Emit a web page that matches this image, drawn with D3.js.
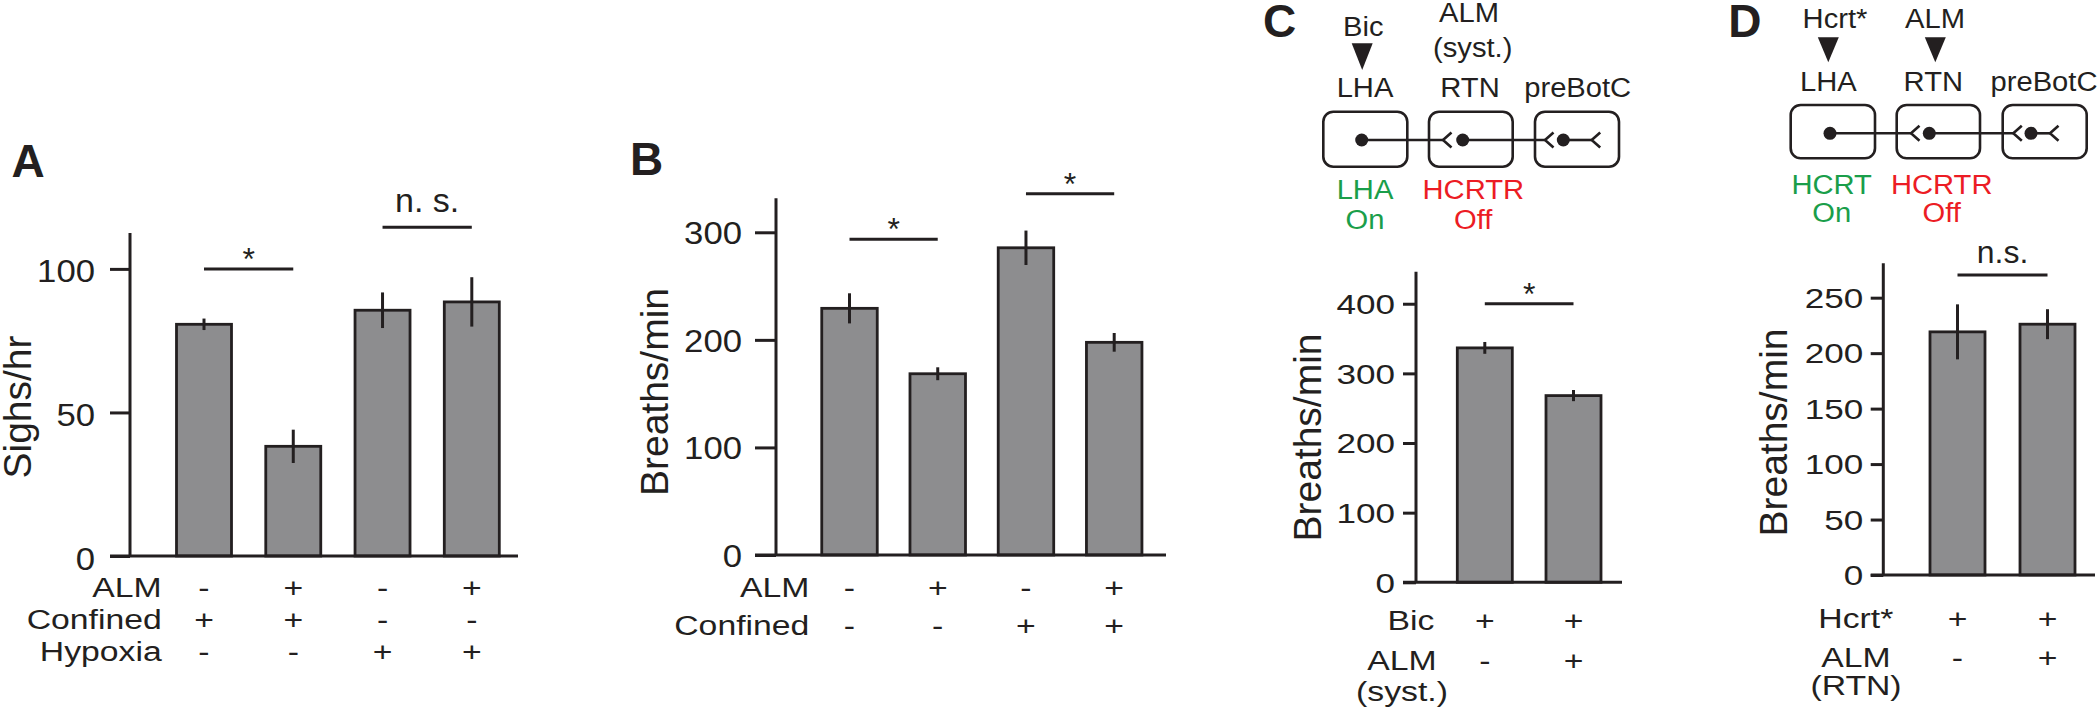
<!DOCTYPE html>
<html><head><meta charset="utf-8">
<script src="https://cdn.jsdelivr.net/npm/d3@7"></script>
<style>
body{margin:0;background:#fff}
svg{display:block}
</style>
</head><body>
<svg id="chart" width="2100" height="712"></svg>
<script>
// ---------------- DATA ----------------
const categoriesA = ["A1", "A2", "A3", "A4"];
const valuesA = [80.7, 38.2, 85.6, 88.5];
const errorsA = [2.0, 5.8, 6.2, 8.6];
const ticksA = [0, 50, 100];
const rowLabelsA = ["ALM", "Confined", "Hypoxia"];
const signsA = [["-", "+", "-", "+"], ["+", "+", "-", "-"], ["-", "-", "+", "+"]];
const sigA = [{from: 0, to: 1, level: 100, label: "*"}, {from: 2, to: 3, level: 114.5, label: "n. s."}];

const categoriesB = ["B1", "B2", "B3", "B4"];
const valuesB = [229.3, 168.5, 285.6, 197.7];
const errorsB = [14, 6, 16, 8.7];
const ticksB = [0, 100, 200, 300];
const rowLabelsB = ["ALM", "Confined"];
const signsB = [["-", "+", "-", "+"], ["-", "-", "+", "+"]];
const sigB = [{from: 0, to: 1, level: 293.5, label: "*"}, {from: 2, to: 3, level: 335.9, label: "*"}];

const categoriesC = ["C1", "C2"];
const valuesC = [336.6, 268.1];
const errorsC = [8.5, 8];
const ticksC = [0, 100, 200, 300, 400];
const rowLabelsC = [["Bic"], ["ALM", "(syst.)"]];
const signsC = [["+", "+"], ["-", "+"]];
const sigC = [{from: 0, to: 1, level: 400, label: "*"}];

const categoriesD = ["D1", "D2"];
const valuesD = [219.2, 226.1];
const errorsD = [24.8, 13.5];
const ticksD = [0, 50, 100, 150, 200, 250];
const rowLabelsD = [["Hcrt*"], ["ALM", "(RTN)"]];
const signsD = [["+", "+"], ["-", "+"]];
const sigD = [{from: 0, to: 1, level: 270.5, label: "n.s."}];

const yTitles = ["Sighs/hr", "Breaths/min", "Breaths/min", "Breaths/min"];
const panelLetters = ["A", "B", "C", "D"];

const regionNames = ["LHA", "RTN", "preBotC"];
const diagC_top = ["Bic", "ALM", "(syst.)"];
const diagC_green = ["LHA", "On"];
const diagC_red = ["HCRTR", "Off"];
const diagD_top = ["Hcrt*", "ALM"];
const diagD_green = ["HCRT", "On"];
const diagD_red = ["HCRTR", "Off"];

// ---------------- STYLE ----------------
const INK = "#231f20";
const BAR = "#8d8d8f";
const GREEN = "#1a9e4a";
const RED = "#ec1c24";
const FONT = "'Liberation Sans', Arial, Helvetica, sans-serif";

const svg = d3.select("#chart");

function txt(g, s, x, y, o) {
  o = o || {};
  return g.append("text")
    .attr("transform", `translate(${x},${y}) scale(${o.sx || 1},1)`)
    .attr("text-anchor", o.anchor || "middle")
    .attr("font-family", FONT)
    .attr("font-size", o.fs || 27)
    .attr("font-weight", o.weight || "normal")
    .attr("fill", o.fill || INK)
    .text(s);
}

function drawPanel(cfg) {
  const g = svg.append("g");
  const y = d3.scaleLinear().domain([0, cfg.yMax]).range([cfg.yBottom, cfg.yTop]);
  const x = d3.scalePoint().domain(cfg.cats).range(cfg.xRange);

  // y axis ticks + labels
  const ax = g.append("g")
    .attr("transform", `translate(${cfg.axisX},0)`)
    .call(d3.axisLeft(y).tickValues(cfg.ticks).tickSize(cfg.tickLen).tickPadding(cfg.tickPad).tickSizeOuter(0));
  ax.select(".domain").remove();
  ax.attr("font-family", FONT).attr("font-size", cfg.tickFs);
  ax.selectAll(".tick line").attr("stroke", INK).attr("stroke-width", 3);
  ax.selectAll(".tick text").attr("fill", INK).attr("dy", cfg.tickDy || "0.36em")
    .each(function () {
      const t = d3.select(this);
      t.attr("x", +t.attr("x") / cfg.tickSx).attr("transform", `scale(${cfg.tickSx},1)`);
    });

  // bars
  g.selectAll("rect.bar").data(cfg.values).enter().append("rect")
    .attr("x", (d, i) => x(cfg.cats[i]) - cfg.barW / 2)
    .attr("y", d => y(d))
    .attr("width", cfg.barW)
    .attr("height", d => y(0) - y(d))
    .attr("fill", BAR).attr("stroke", INK).attr("stroke-width", 2.8);

  // error bars
  g.selectAll("line.err").data(cfg.values).enter().append("line")
    .attr("x1", (d, i) => x(cfg.cats[i])).attr("x2", (d, i) => x(cfg.cats[i]))
    .attr("y1", (d, i) => y(d + cfg.errors[i])).attr("y2", (d, i) => y(d - cfg.errors[i]))
    .attr("stroke", INK).attr("stroke-width", 3);

  // axis lines
  g.append("line").attr("x1", cfg.axisX).attr("x2", cfg.axisX)
    .attr("y1", y(0)).attr("y2", y(cfg.yMax)).attr("stroke", INK).attr("stroke-width", 3);
  g.append("line").attr("x1", cfg.axisX - cfg.tickLen).attr("x2", cfg.xAxisRight)
    .attr("y1", y(0)).attr("y2", y(0)).attr("stroke", INK).attr("stroke-width", 3);

  // significance
  cfg.sig.forEach(s => {
    const x1 = x(cfg.cats[s.from]), x2 = x(cfg.cats[s.to]);
    g.append("line").attr("x1", x1).attr("x2", x2).attr("y1", y(s.level)).attr("y2", y(s.level))
      .attr("stroke", INK).attr("stroke-width", 3);
    const isStar = s.label === "*";
    txt(g, s.label, (x1 + x2) / 2, y(s.level) + (isStar ? 1 : cfg.nsOffset),
      {fs: isStar ? 32 : cfg.nsFs});
  });

  // y title
  g.append("text")
    .attr("transform", `translate(${cfg.titleX},${cfg.titleY}) rotate(-90)`)
    .attr("text-anchor", "middle").attr("font-family", FONT).attr("font-size", 39)
    .attr("fill", INK).text(cfg.title);

  // panel letter
  txt(g, cfg.letter, cfg.letterX, cfg.letterY, {anchor: "start", fs: 46, weight: "bold"});

  // condition rows
  cfg.rows.forEach((lab, r) => {
    const lines = Array.isArray(lab) ? lab : [lab];
    if (lines.length === 1) {
      txt(g, lines[0], cfg.rowLabelRight, cfg.rowBase[r], {anchor: "end", fs: cfg.rowFs, sx: cfg.rowSx});
    } else {
      lines.forEach((l, k) => txt(g, l, cfg.groupCenter, cfg.rowBase[r] + k * cfg.subLine, {fs: cfg.rowFs, sx: cfg.rowSx}));
    }
    cfg.signs[r].forEach((s, i) => txt(g, s, x(cfg.cats[i]), cfg.rowBase[r], {fs: cfg.rowFs, sx: cfg.rowSx}));
  });
}

function drawDiagram(d) {
  const g = svg.append("g");
  d.top.forEach(t => txt(g, t.s, t.x, t.y, {fs: 27, sx: 1.08}));
  d.tri.forEach(t => g.append("path")
    .attr("d", `M${t.cx - 10.5},${t.top}L${t.cx + 10.5},${t.top}L${t.cx},${t.bottom}Z`).attr("fill", INK));
  regionNames.forEach((s, i) => txt(g, s, d.regionX[i], d.regionY, {fs: 27, sx: 1.08}));
  d.boxes.forEach(b => g.append("rect").attr("x", b[0]).attr("y", d.boxTop)
    .attr("width", b[1] - b[0]).attr("height", d.boxBottom - d.boxTop)
    .attr("rx", 10).attr("ry", 10).attr("fill", "none").attr("stroke", INK).attr("stroke-width", 2.6));
  d.segs.forEach(s => g.append("line").attr("x1", s[0]).attr("x2", s[1])
    .attr("y1", d.lineY).attr("y2", d.lineY).attr("stroke", INK).attr("stroke-width", 2.6));
  d.chev.forEach(v => g.append("path")
    .attr("d", `M${v + 8.5},${d.lineY - 7.5}L${v},${d.lineY}L${v + 8.5},${d.lineY + 7.5}`)
    .attr("fill", "none").attr("stroke", INK).attr("stroke-width", 2.6));
  d.dots.forEach(v => g.append("circle").attr("cx", v).attr("cy", d.lineY).attr("r", 6.5).attr("fill", INK));
  d.green.forEach((s, k) => txt(g, s, d.greenX, d.colorBase[k], {fs: 27, sx: 1.08, fill: GREEN}));
  d.red.forEach((s, k) => txt(g, s, d.redX, d.colorBase[k], {fs: 27, sx: 1.08, fill: RED}));
}

// ---------------- PANELS ----------------
drawPanel({
  cats: categoriesA, values: valuesA, errors: errorsA, ticks: ticksA, sig: sigA,
  rows: rowLabelsA, signs: signsA, title: yTitles[0], letter: panelLetters[0],
  yMax: 112.5, yBottom: 556, yTop: 233, xRange: [204, 471.8], barW: 55,
  axisX: 130, tickLen: 20, tickPad: 15, tickFs: 31, tickSx: 1.12, tickDy: "0.42em", xAxisRight: 518,
  nsOffset: -15.6, nsFs: 34,
  titleX: 31, titleY: 407, letterX: 11.5, letterY: 176.7,
  rowLabelRight: 161.7, rowBase: [596.7, 628.5, 661], rowFs: 27, rowSx: 1.25
});

drawPanel({
  cats: categoriesB, values: valuesB, errors: errorsB, ticks: ticksB, sig: sigB,
  rows: rowLabelsB, signs: signsB, title: yTitles[1], letter: panelLetters[1],
  yMax: 331.6, yBottom: 555, yTop: 198.3, xRange: [849.5, 1114.2], barW: 55.5,
  axisX: 776, tickLen: 21, tickPad: 13, tickFs: 31, tickSx: 1.12, xAxisRight: 1166,
  nsOffset: -15, nsFs: 34,
  titleX: 668.3, titleY: 392, letterX: 630, letterY: 175,
  rowLabelRight: 809.3, rowBase: [596.7, 635], rowFs: 27, rowSx: 1.25
});

drawPanel({
  cats: categoriesC, values: valuesC, errors: errorsC, ticks: ticksC, sig: sigC,
  rows: rowLabelsC, signs: signsC, title: yTitles[2], letter: panelLetters[2],
  yMax: 446, yBottom: 582.3, yTop: 271.7, xRange: [1484.8, 1573.5], barW: 55,
  axisX: 1416, tickLen: 13, tickPad: 8, tickFs: 27, tickSx: 1.3, xAxisRight: 1622,
  nsOffset: -12, nsFs: 32,
  titleX: 1320.7, titleY: 437.5, letterX: 1263, letterY: 36.7,
  rowLabelRight: 1434.3, rowBase: [630, 670], groupCenter: 1402, subLine: 30.7, rowFs: 27, rowSx: 1.25
});

drawPanel({
  cats: categoriesD, values: valuesD, errors: errorsD, ticks: ticksD, sig: sigD,
  rows: rowLabelsD, signs: signsD, title: yTitles[3], letter: panelLetters[3],
  yMax: 281, yBottom: 575, yTop: 263.3, xRange: [1957.5, 2047.5], barW: 55,
  axisX: 1883.3, tickLen: 12.6, tickPad: 7.4, tickFs: 27, tickSx: 1.3, xAxisRight: 2095,
  nsOffset: -11.7, nsFs: 32,
  titleX: 1787.3, titleY: 432.5, letterX: 1728.3, letterY: 36.7,
  rowLabelRight: 1893.3, rowBase: [628.3, 666.7], groupCenter: 1856, subLine: 28.3, rowFs: 27, rowSx: 1.25
});

// ---------------- DIAGRAMS ----------------
drawDiagram({
  top: [{s: diagC_top[0], x: 1363.3, y: 36}, {s: diagC_top[1], x: 1469, y: 21.7}, {s: diagC_top[2], x: 1472.7, y: 56.7}],
  tri: [{cx: 1362.2, top: 43.3, bottom: 70}],
  regionX: [1365, 1470, 1577.7], regionY: 97.3,
  boxes: [[1323.3, 1407.3], [1429, 1512.7], [1535, 1619]], boxTop: 111.7, boxBottom: 166.7,
  lineY: 140,
  segs: [[1361.7, 1443], [1462.7, 1545], [1563.3, 1591.7]],
  chev: [1443, 1545, 1591.7],
  dots: [1361.7, 1462.7, 1563.3],
  green: diagC_green, red: diagC_red, greenX: 1365, redX: 1473.3, colorBase: [199.3, 228.8]
});

drawDiagram({
  top: [{s: diagD_top[0], x: 1835, y: 28.3}, {s: diagD_top[1], x: 1935, y: 28.3}],
  tri: [{cx: 1828.3, top: 37.3, bottom: 62.3}, {cx: 1935.3, top: 37.3, bottom: 62.3}],
  regionX: [1828.3, 1933.3, 2044], regionY: 90.7,
  boxes: [[1790.7, 1875], [1896.7, 1980], [2002.7, 2086.7]], boxTop: 105, boxBottom: 158.3,
  lineY: 133.3,
  segs: [[1830, 1911], [1929.3, 2013.3], [2031, 2050]],
  chev: [1911, 2013.3, 2050],
  dots: [1830, 1929.3, 2031],
  green: diagD_green, red: diagD_red, greenX: 1831.7, redX: 1941.7, colorBase: [194, 222.3]
});
</script>
</body></html>
